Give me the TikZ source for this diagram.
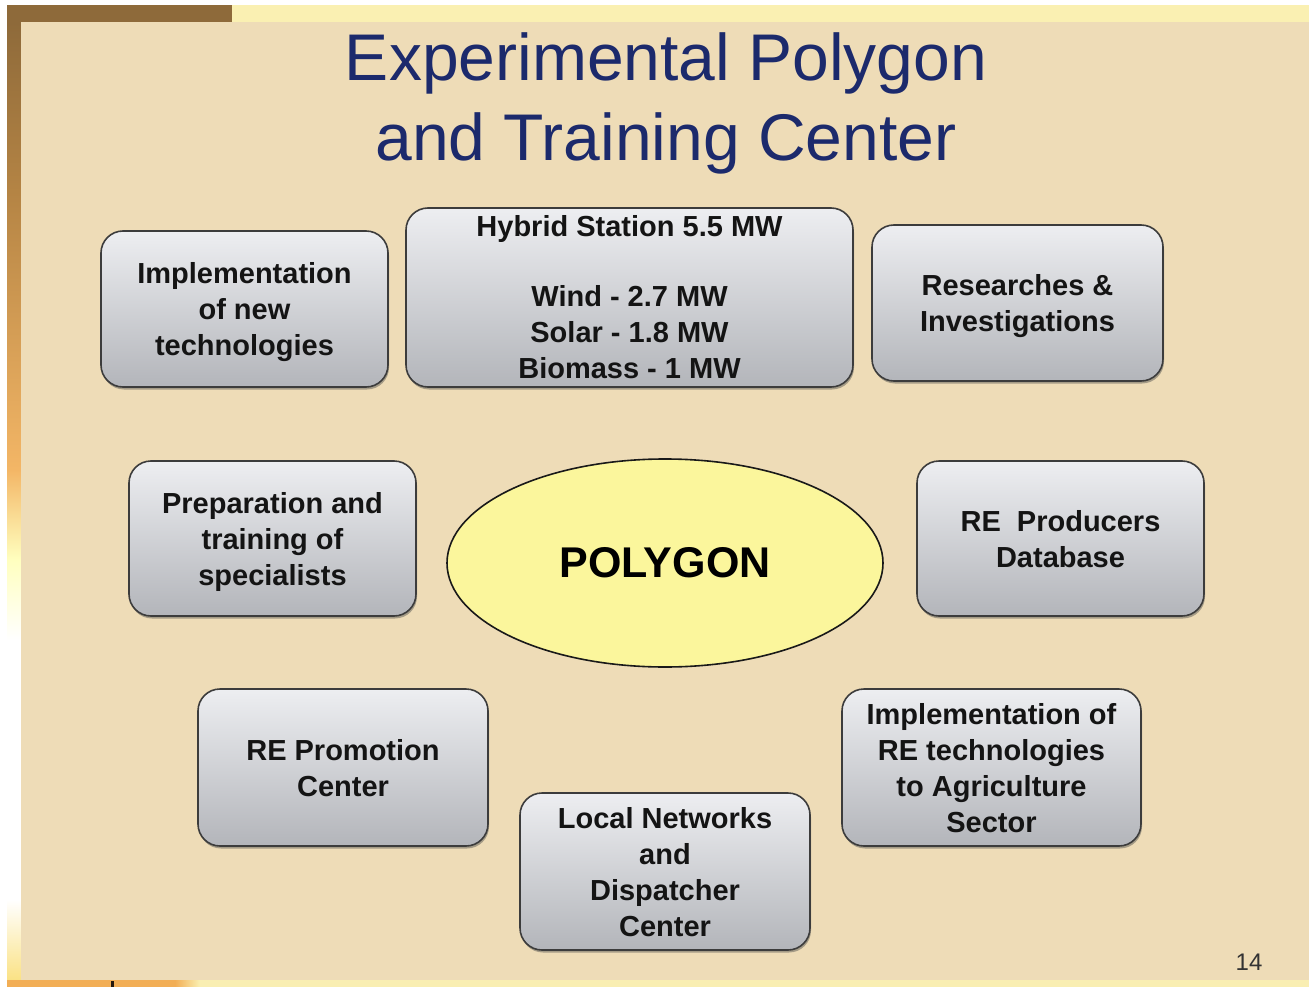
\documentclass[tikz,border=0pt]{standalone}
\usepackage{fontspec}
\setmainfont{Liberation Sans}
\usetikzlibrary{shapes.geometric,shadows}
\definecolor{parch}{HTML}{EEDCB7}
\definecolor{titleblue}{HTML}{1C2A6C}
\definecolor{boxtop}{HTML}{EDEEF1}
\definecolor{boxbot}{HTML}{B3B5BA}
\definecolor{boxline}{HTML}{3C3C3C}
\definecolor{txt}{HTML}{141414}
\definecolor{ellfill}{HTML}{FBF69C}
\definecolor{brownband}{HTML}{8E6A3A}
\definecolor{yelband}{HTML}{FAF0B2}
\definecolor{orangeband}{HTML}{F2AE55}
\tikzset{
  infobox/.style={draw=boxline, line width=1.6pt, rounded corners=22pt,
    top color=boxtop, bottom color=boxbot, inner sep=0pt,
    drop shadow={shadow xshift=1pt, shadow yshift=-2.5pt, opacity=0.45, fill=black!70}},
  boxtext/.style={text=txt, align=center, inner sep=0pt,
    font=\fontsize{29}{36}\selectfont\bfseries},
  centreell/.style={ellipse, draw=black!90, line width=1.6pt, fill=ellfill,
    inner sep=0pt, text=black, font=\fontsize{43}{50}\selectfont\bfseries},
  titletext/.style={text=titleblue, font=\fontsize{66}{80}\selectfont, inner sep=0pt, anchor=base}
}
\begin{document}
\begin{tikzpicture}[x=1pt,y=-1pt]
\useasboundingbox (0,0) rectangle (1309,987);
% background frame
\fill[white] (0,0) rectangle (1309,987);
\fill[brownband] (7,5) rectangle (232,22);
\fill[yelband] (232,5) rectangle (1309,22);
\shade[top color=brownband, bottom color=brownband!60!orangeband] (7,22) rectangle (21,200);
\shade[top color=brownband!60!orangeband, bottom color=orangeband!90!white] (7,200) rectangle (21,470);
\shade[top color=orangeband!90!white, bottom color=yellow!25!white] (7,470) rectangle (21,560);
\shade[top color=yellow!25!white, bottom color=white] (7,560) rectangle (21,640);
\fill[white] (7,640) rectangle (21,900);
\shade[top color=white, bottom color=yellow!40!orangeband!60!white] (7,900) rectangle (21,980);
\fill[orangeband] (7,980) rectangle (175,987);
\shade[left color=orangeband, right color=yelband] (175,980) rectangle (200,987);
\fill[yelband!90!parch] (200,980) rectangle (1309,987);
\fill[black!80!brown] (111,981) rectangle (114,987);
\fill[parch] (21,22) rectangle (1309,980);
% title
\node[titletext] (t1) at (666,81) {Experimental Polygon};
\node[titletext] (t2) at (666,161) {and Training Center};
% boxes
\node[infobox, minimum width=287pt, minimum height=156pt] (newtech) at (244.5,309) {};
\node[boxtext] (newtech-t) at ([yshift=-3pt]newtech.center) {Implementation\\of new\\technologies};
\node[infobox, minimum width=447pt, minimum height=179pt] (hybrid) at (629.5,297.5) {};
\node[boxtext] (hybrid-t) at ([yshift=0pt]hybrid.center) {Hybrid Station 5.5 MW\\[34pt]Wind - 2.7 MW\\Solar - 1.8 MW\\Biomass - 1 MW};
\node[infobox, minimum width=291pt, minimum height=156pt] (research) at (1017.5,303) {};
\node[boxtext] (research-t) at ([yshift=-3pt]research.center) {Researches \&\\Investigations};
\node[infobox, minimum width=287pt, minimum height=155pt] (prep) at (272.5,538.5) {};
\node[boxtext] (prep-t) at ([yshift=-3pt]prep.center) {Preparation and\\training of\\specialists};
\node[infobox, minimum width=287pt, minimum height=155pt] (producers) at (1060.5,538.5) {};
\node[boxtext] (producers-t) at ([yshift=-1pt]producers.center) {RE\ \ Producers\\Database};
\node[infobox, minimum width=290pt, minimum height=157pt] (promo) at (343,767.5) {};
\node[boxtext] (promo-t) at ([yshift=-1pt]promo.center) {RE Promotion\\Center};
\node[infobox, minimum width=290pt, minimum height=157pt] (local) at (665,871.5) {};
\node[boxtext] (local-t) at ([yshift=-1pt]local.center) {Local Networks\\and\\Dispatcher\\Center};
\node[infobox, minimum width=299pt, minimum height=157pt] (agri) at (991.5,767.5) {};
\node[boxtext] (agri-t) at ([yshift=-1pt]agri.center) {Implementation of\\RE technologies\\to Agriculture\\Sector};
% centre
\node[centreell, minimum width=436pt, minimum height=208pt] (poly) at (665,563) {POLYGON};
% page number
\node[text=black!80, font=\fontsize{24}{28}\selectfont, inner sep=0pt] (pnum) at (1249,962) {14};
\end{tikzpicture}
\end{document}
